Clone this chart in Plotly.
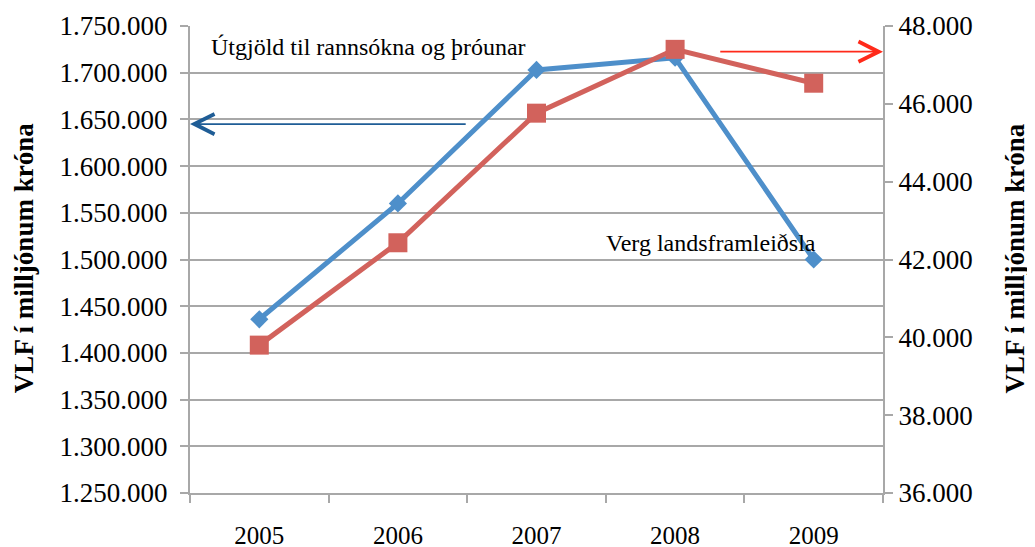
import plotly.graph_objects as go

# Ár
years = ["2005", "2006", "2007", "2008", "2009"]

# Útgjöld til rannsókna og þróunar (vinstri ás)
utgjold = [1436000, 1560000, 1703000, 1716000, 1500000]

# Verg landsframleiðsla (hægri ás)
vlf = [39800, 42430, 45760, 47400, 46530]

blue = "#4e8fca"
red = "#d2625c"
grid = "#a8a8a8"
serif = "Liberation Serif"

fig = go.Figure()

fig.add_trace(go.Scatter(
    x=years, y=utgjold, mode="lines+markers", name="Útgjöld til rannsókna og þróunar",
    line=dict(color=blue, width=5),
    marker=dict(symbol="diamond", size=14, color=blue),
    yaxis="y"))

fig.add_trace(go.Scatter(
    x=years, y=vlf, mode="lines+markers", name="Verg landsframleiðsla",
    line=dict(color=red, width=5),
    marker=dict(symbol="square", size=19, color=red),
    yaxis="y2"))

# síðan hefur 8px spássíu, svo allt er fært um 8px upp/til vinstri
fig.update_layout(
    width=1035, height=547,
    margin=dict(l=182, r=160, t=18, b=62, autoexpand=False),
    plot_bgcolor="white", paper_bgcolor="white",
    separators=",.",
    showlegend=False,
    xaxis=dict(
        type="category", range=[-0.5, 4.5], automargin=False,
        showgrid=False, showline=True, linecolor=grid, linewidth=2,
        ticks="outside", tickson="boundaries", ticklen=8, tickcolor=grid, tickwidth=2,
        tickfont=dict(family=serif, size=25, color="black"), ticklabelstandoff=19,
    ),
    yaxis=dict(
        range=[1250000, 1750000], dtick=50000, tickformat=",d", automargin=False,
        showgrid=True, gridcolor=grid, gridwidth=2,
        showline=True, linecolor=grid, linewidth=2,
        ticks="outside", ticklen=8, tickcolor=grid, tickwidth=2,
        tickfont=dict(family=serif, size=27, color="black"), ticklabelstandoff=7,
        zeroline=False,
    ),
    yaxis2=dict(
        range=[36000, 48000], dtick=2000, tickformat=",d", automargin=False,
        overlaying="y", side="right", showgrid=False,
        showline=True, linecolor=grid, linewidth=2,
        ticks="outside", ticklen=8, tickcolor=grid, tickwidth=2,
        tickfont=dict(family=serif, size=27, color="black"), zeroline=False,
    ),
)

# Ásaheiti
for xpos in [-0.2395, 1.191]:
    fig.add_annotation(
        text="<b>VLF í milljónum króna</b>", textangle=-90,
        xref="paper", yref="paper", x=xpos, y=0.503,
        xanchor="center", yanchor="middle",
        showarrow=False, font=dict(family=serif, size=27, color="black"))

# Textar inni í grafinu
fig.add_annotation(
    text="Útgjöld til rannsókna og þróunar", xref="paper", yref="paper",
    x=0.028, y=0.955, xanchor="left", yanchor="middle",
    showarrow=False, font=dict(family=serif, size=24, color="black"))
fig.add_annotation(
    text="Verg landsframleiðsla", xref="paper", yref="paper",
    x=0.598, y=0.535, xanchor="left", yanchor="middle",
    showarrow=False, font=dict(family=serif, size=24, color="black"))

# Örvar sem vísa á ásana
fig.add_annotation(
    x=0.0, y=0.79, xref="x domain", yref="y domain",
    ax=0.4, ay=0.79, axref="x domain", ayref="y domain",
    text="", showarrow=True, arrowhead=5, arrowsize=2.2, arrowwidth=1.8,
    arrowcolor="#1f5d96")
fig.add_annotation(
    x=1.0, y=0.945, xref="x domain", yref="y domain",
    ax=0.763, ay=0.945, axref="x domain", ayref="y domain",
    text="", showarrow=True, arrowhead=5, arrowsize=2.2, arrowwidth=1.8,
    arrowcolor="#ff2a1a")

fig.write_html("out.html")
